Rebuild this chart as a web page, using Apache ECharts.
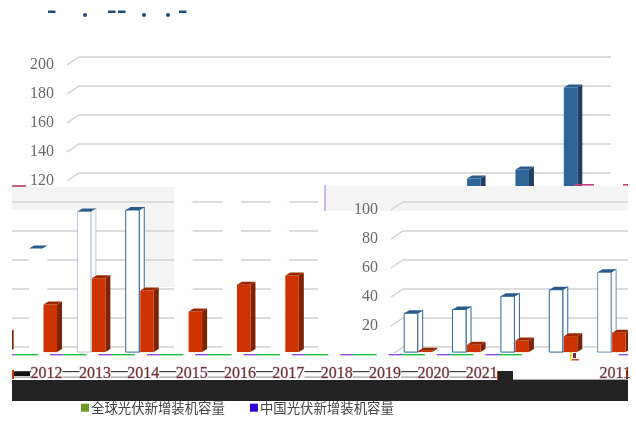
<!DOCTYPE html>
<html><head><meta charset="utf-8">
<style>html,body{margin:0;padding:0;background:#fff}#c{width:636px;height:423px}</style>
<script src="https://cdn.jsdelivr.net/npm/echarts@6/dist/echarts.min.js"></script>
</head><body><div id="c"></div>
<script>
const categories = ['2011','2012','2013','2014','2015','2016','2017','2018','2019','2020','2021'];
const globalValues = [28.8,31.4,40.5,45,57,73.4,99,100,121.7,127.9,184.5];
const chinaValues = [3,7,10,13,15.3,34.8,53,44.5,30,48.4,54.8];
const gridValues = [0,20,40,60,80,100,120,140,160,180,200];
const names = ['全球光伏新增装机容量','中国光伏新增装机容量'];

const chart = echarts.init(document.getElementById('c'), null, {renderer:'canvas'});
const DX = 12, DY = 8, BW = 13.5, SX = 5, SY = 3, FLOOR = 2;
const panels = [
  {left:67,  clip:{x:0,y:0,width:636,height:186}, hollow:false, min:120, max:200},
  {left:391, clip:{x:328,y:187,width:300,height:166}, hollow:true, min:20, max:100},
  {left:-226,clip:{x:12,y:187,width:316,height:166}, hollow:true, min:999, max:0}
];
const markClip = {x:12,y:340,width:616,height:40};
const edgeStrength = [1,1,1,1,.7,0,.35,1,0,0,0];

function rows(values){ return values.map((v,i)=>[i,v]); }
function poly(points,fill,extra){ return Object.assign({type:'polygon',shape:{points},style:{fill}},extra||{}); }

function gridRender(p){
  return function(params,api){
    const c = api.coord([0,api.value(1)]), cs = params.coordSys, y = c[1];
    const style = {stroke:'#d2d2d2',lineWidth:1.5,fill:'none'};
    return {type:'group',clipPath:{type:'rect',shape:p.clip},children:[
      {type:'polyline',shape:{points:[[cs.x,y],[cs.x+DX,y-DY],[cs.x+cs.width+DX,y-DY]]},style}
    ]};
  };
}
function barRender(p,from,colors,hollow){
  return function(params,api){
    const i = api.value(0), v = api.value(1);
    const top = api.coord([i,v]), base = api.coord([i,FLOOR]);
    const x = top[0]+from, y = top[1], b = base[1];
    const children = [];
    const strength = hollow ? edgeStrength[i] : 0;
    const edge = hollow && strength ? {stroke:'rgba(50,100,150,'+strength+')',lineWidth:1} : {};
    children.push(poly([[x+BW,y],[x+BW+SX,y-SY],[x+BW+SX,b-SY],[x+BW,b]],hollow?'#fff':colors.side,{style:Object.assign({fill:hollow?'#fff':colors.side},edge)}));
    children.push({type:'rect',shape:{x,y,width:BW,height:b-y},style:Object.assign({fill:hollow?'#fff':colors.front},edge)});
    children.push(poly([[x,y],[x+SX,y-SY],[x+BW+SX,y-SY],[x+BW,y]],colors.top));
    return {type:'group',clipPath:{type:'rect',shape:p.clip},children};
  };
}
function markRender(params,api){
  const i = api.value(0), c = api.coord([i,0]), y = c[1]-1;
  const mk = (x0,x1,yy,col,h)=>({type:'rect',shape:{x:c[0]+x0,y:yy,width:x1-x0,height:h||1.4},style:{fill:col}});
  const ch = [mk(3.5,17,y,'#8a4fe0'),mk(17,40,y,'#17c23a')];
  if(i<categories.length-1){
    ch.push(mk(16,33,y+17,'#444',1.2));
    ch.push(mk(16,33,y+22.5,'#999',1.2));
  }
  return {type:'group',clipPath:{type:'rect',shape:markClip},children:ch};
}
const blue = {front:'#2f6496',side:'#1f3f64',top:'#2a5a8a'};
const red  = {front:'#cc3300',side:'#7f2200',top:'#992800'};

const grids=[], xAxes=[], yAxes=[], series=[];
function addAxes(left,labelFn,xLabel){
  const k = grids.length;
  grids.push({left,top:65,width:532,height:290,containLabel:false,outerBoundsMode:'none'});
  xAxes.push({type:'category',gridIndex:k,data:categories,axisLine:{show:false},axisTick:{show:false},splitLine:{show:false},
    axisLabel:xLabel||{show:false}});
  yAxes.push({type:'value',gridIndex:k,min:0,max:200,interval:20,axisLine:{show:false},axisTick:{show:false},splitLine:{show:false},
    axisLabel:labelFn?{margin:13,color:'#6a6a6a',fontFamily:'Liberation Serif',fontSize:16,formatter:labelFn}:{show:false}});
  return k;
}
panels.forEach((p,pi)=>{
  const k = addAxes(p.left, pi===2?null:(v=>(v>=p.min&&v<=p.max)?String(v):''));
  series.push({type:'custom',xAxisIndex:k,yAxisIndex:k,silent:true,z:2,data:gridValues.map(v=>[0,v]),encode:{x:0,y:1},renderItem:gridRender(p)});
  series.push({type:'custom',name:names[0],xAxisIndex:k,yAxisIndex:k,silent:true,z:3,data:rows(globalValues),encode:{x:0,y:1},renderItem:barRender(p,-11,blue,p.hollow)});
  series.push({type:'custom',name:names[1],xAxisIndex:k,yAxisIndex:k,silent:true,z:4,data:rows(chinaValues),encode:{x:0,y:1},renderItem:barRender(p,3.5,red,false)});
});
const labelStyle = {show:true,margin:11,color:'#6b3a1a',fontFamily:'Liberation Serif',fontSize:16,
  textBorderColor:'rgba(150,70,200,.4)',textBorderWidth:1};
const k3 = addAxes(-26,null,Object.assign({interval:(i)=>i>0},labelStyle));
const k4 = addAxes(591,null,Object.assign({interval:(i)=>i===0},labelStyle));
series.push({type:'custom',xAxisIndex:k3,yAxisIndex:k3,silent:true,z:5,data:rows(chinaValues.map(()=>0)),encode:{x:0,y:1},renderItem:markRender});
series.push({type:'custom',xAxisIndex:k4,yAxisIndex:k4,silent:true,z:5,data:[[0,0]],encode:{x:0,y:1},renderItem:markRender});

const navy='#1f4e79';
const rect=(x,y,w,h,fill,z)=>({type:'rect',shape:{x,y,width:w,height:h},style:{fill},z:z===undefined?20:z,silent:true});
const dot=(x,y)=>({type:'circle',shape:{cx:x,cy:y,r:2},style:{fill:navy},z:20,silent:true});
const graphicEls=[
  rect(12,187,162,23,'#f4f4f4',0),rect(145,210,29,77,'#f4f4f4',0),rect(326,186,302,25,'#f4f4f4',0),
  rect(48,10.5,7.5,2.5,navy),rect(108,10.5,7.5,2.5,navy),rect(118,10.5,7.5,2.5,navy),rect(179,10.5,7.5,2.5,navy),
  dot(85,15),dot(144,15),dot(168,15),
  rect(12,185,14,2,'#c4608a'),rect(575,184,19,1.6,'#c4407a'),rect(623,184,5,1.6,'#c4407a'),
  rect(324,185,2,26,'#cdb6f0'),
  rect(14,372,16,4,'#111'),
  rect(12,370,2,9,'#cc3300'),rect(497,371,2,9,'#cc3300'),rect(498,371,15,9,'#222'),
  rect(626,370,2,9,'#8a2a10'),
  rect(570,352,1.5,9,'#e8d000'),rect(572,359,7,1.5,'#d84a20'),rect(573,353,3,5,'#7a2a40'),
  rect(513,379,115,1,'#aaa'),
  rect(12,380,616,21,'#222')
];
chart.setOption({
  animation:false,backgroundColor:'#fff',
  grid:grids,xAxis:xAxes,yAxis:yAxes,series,
  legend:{left:76,top:396,icon:'rect',itemWidth:8,itemHeight:8,itemGap:25,selectedMode:false,
    textStyle:{color:'#444',fontFamily:'Noto Sans CJK SC',fontSize:13.4,padding:[0,0,0,-3]},
    data:[{name:names[0],itemStyle:{color:'#6e9a28'}},{name:names[1],itemStyle:{color:'#3300cc'}}]},
  graphic:{elements:graphicEls}
});
</script></body></html>
